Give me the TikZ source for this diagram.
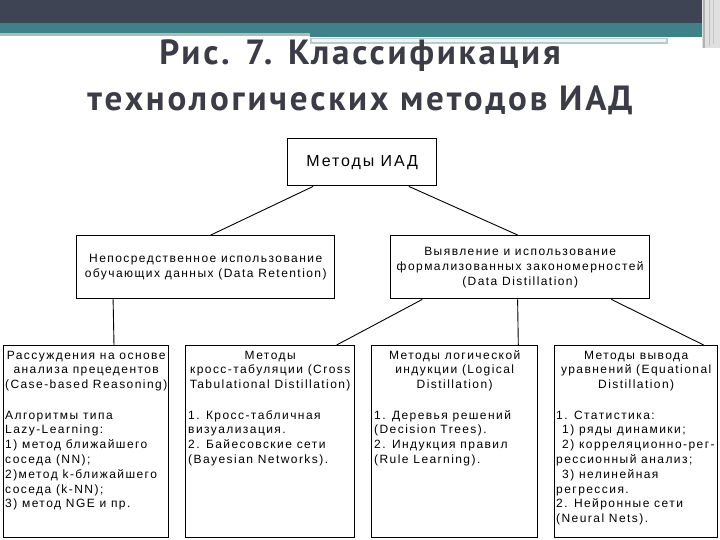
\documentclass[tikz,border=0pt]{standalone}
\usepackage{fontspec}
\setmainfont{Liberation Sans}
\newfontfamily\boxfont[LetterSpace=12]{Liberation Sans}
\newfontfamily\topfont[LetterSpace=12]{Liberation Sans}
\newfontfamily\titlefont[LetterSpace=8]{PT Sans}
\usetikzlibrary{calc}
\definecolor{barDark}{HTML}{3E4453}
\definecolor{barTeal}{HTML}{3F8189}
\definecolor{barLight}{HTML}{A9BDBF}
\definecolor{titleGray}{HTML}{3C3C46}
\newcommand{\hdtab}[1]{\begin{tabular}[t]{@{}c@{}}#1\end{tabular}}
\newcommand{\bdtab}[1]{\begin{tabular}[t]{@{}l@{}}#1\end{tabular}}
\begin{document}
\begin{tikzpicture}[x=1pt,y=-1pt,
  box/.style={draw=black, line width=1.4pt, fill=white, rectangle, inner sep=0pt, anchor=north west},
  wire/.style={draw=black, line width=0.9pt},
  boxtext/.style={font=\boxfont\fontsize{12}{14.8}\selectfont, inner sep=0pt},
  midtext/.style={font=\boxfont\fontsize{12}{15}\selectfont, inner sep=0pt, align=center},
  toptext/.style={font=\topfont\fontsize{16}{18}\selectfont, inner sep=0pt},
  titletext/.style={font=\titlefont\bfseries\fontsize{35}{40}\selectfont, text=titleGray, inner sep=0pt, anchor=base}
]
\useasboundingbox (0,0) rectangle (720,540);
\fill[white] (0,0) rectangle (720,540);
% top decoration
\fill[barDark] (0,0) rectangle (702,23);
\fill[barTeal] (0,23) rectangle (702,33);
\fill[barTeal] (310,33) rectangle (702,37);
\fill[barLight] (0,33) rectangle (310,36);
\fill[barLight!80] (310,38) rectangle (668,44);
\fill[white!85!barLight] (312,39.5) rectangle (666,42.5);
\fill[gray!25] (702,0) rectangle (720,48);
\draw[gray!60, line width=1.5pt] (704,0) -- (704,48);
\draw[gray!50, line width=1pt] (709,0) -- (709,46);
\draw[gray!45, line width=1pt] (713,0) -- (713,44);
% title
\node[titletext] (t1) at (360,65) {Рис. 7. Классификация};
\node[titletext] (t2) at (360,111) {технологических методов ИАД};
% boxes
\node[box, minimum width=149pt, minimum height=47pt] (top) at (287,138) {};
\node[toptext] (toplbl) at (top.center) {Методы ИАД};
\node[box, minimum width=258pt, minimum height=63pt] (ret) at (76,235) {};
\node[midtext] (retlbl) at (ret.center) {Непосредственное использование\\обучающих данных (Data Retention)};
\node[box, minimum width=259pt, minimum height=63pt] (dist) at (390,235) {};
\node[midtext] (distlbl) at (dist.center) {Выявление и использование\\формализованных закономерностей\\(Data Distillation)};
\node[box, minimum width=165pt, minimum height=192pt] (b1) at (3,345) {};
\node[box, minimum width=169pt, minimum height=192pt] (b2) at (185,345) {};
\node[box, minimum width=166pt, minimum height=192pt] (b3) at (371,345) {};
\node[box, minimum width=163pt, minimum height=192pt] (b4) at (554,345) {};
% headers
\node[boxtext, anchor=base] (h1) at ($(b1.north)+(0,14)$) {\hdtab{Рассуждения на основе\\анализа прецедентов\\(Case-based Reasoning)}};
\node[boxtext, anchor=base] (h2) at ($(b2.north)+(0,14)$) {\hdtab{Методы\\кросс-табуляции (Cross\\Tabulational Distillation)}};
\node[boxtext, anchor=base] (h3) at ($(b3.north)+(0,14)$) {\hdtab{Методы логической\\индукции (Logical\\Distillation)}};
\node[boxtext, anchor=base] (h4) at ($(b4.north)+(0,14)$) {\hdtab{Методы вывода\\уравнений (Equational\\Distillation)}};
% bodies
\node[boxtext, anchor=base west] (c1) at ($(b1.north west)+(2,74)$) {\bdtab{Алгоритмы типа\\Lazy-Learning:\\1) метод ближайшего\\соседа (NN);\\2)метод k-ближайшего\\соседа (k-NN);\\3) метод NGE и пр.}};
\node[boxtext, anchor=base west] (c2) at ($(b2.north west)+(3,74)$) {\bdtab{1. Кросс-табличная\\визуализация.\\2. Байесовские сети\\(Bayesian Networks).}};
\node[boxtext, anchor=base west] (c3) at ($(b3.north west)+(3,74)$) {\bdtab{1. Деревья решений\\(Decision Trees).\\2. Индукция правил\\(Rule Learning).}};
\node[boxtext, anchor=base west] (c4) at ($(b4.north west)+(2,74)$) {\bdtab{1. Статистика:\\\hspace*{6pt}1) ряды динамики;\\\hspace*{6pt}2) корреляционно-рег-\\рессионный анализ;\\\hspace*{6pt}3) нелинейная\\регрессия.\\2. Нейронные сети\\(Neural Nets).}};
% connectors
\draw[wire] ($(top.south west)!0.174!(top.south east)$) -- ($(ret.north west)!0.52!(ret.north east)$);
\draw[wire] ($(top.south west)!0.81!(top.south east)$) -- ($(dist.north west)!0.49!(dist.north east)$);
\draw[wire] ($(ret.south west)!0.143!(ret.south east)$) -- ($(b1.north west)!0.667!(b1.north east)$);
\draw[wire] ($(dist.south west)!0.124!(dist.south east)$) -- ($(b2.north west)!0.89!(b2.north east)$);
\draw[wire] ($(dist.south west)!0.49!(dist.south east)$) -- ($(b3.north west)!0.88!(b3.north east)$);
\draw[wire] ($(dist.south west)!0.85!(dist.south east)$) -- ($(b4.north west)!0.91!(b4.north east)$);
\end{tikzpicture}
\end{document}
